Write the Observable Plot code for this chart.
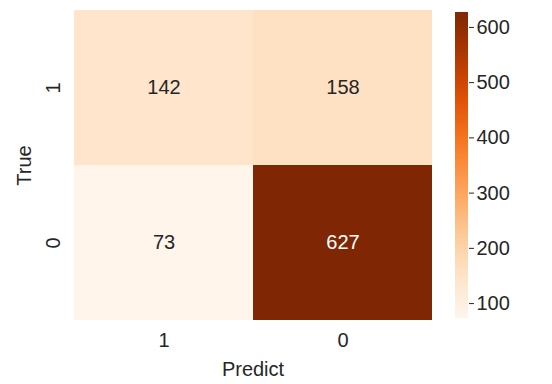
<!DOCTYPE html>
<html>
<head>
<meta charset="utf-8">
<script src="https://cdn.jsdelivr.net/npm/d3@7"></script>
<script src="https://cdn.jsdelivr.net/npm/@observablehq/plot@0.6"></script>
<style>
  html, body { margin: 0; padding: 0; background: #fff; }
  #chart { position: relative; width: 552px; height: 384px; }
  #chart svg { position: absolute; left: 0; top: 0; }
</style>
</head>
<body>
<div id="chart"></div>
<script>
// Confusion matrix: rows are true labels, columns are predicted labels
const trueLabels = ["1", "0"];
const predictLabels = ["1", "0"];
const counts = [
  [142, 158],
  [73, 627]
];
const colorbarTicks = [100, 200, 300, 400, 500, 600];

const cells = [];
trueLabels.forEach((t, i) => predictLabels.forEach((p, j) => {
  cells.push({truth: t, predict: p, value: counts[i][j]});
}));

const vmin = d3.min(cells, d => d.value);
const vmax = d3.max(cells, d => d.value);
const colorOpts = {type: "linear", scheme: "Oranges", domain: [vmin, vmax]};
const font = "'Liberation Sans', Arial, sans-serif";

const heatmap = Plot.plot({
  width: 552,
  height: 384,
  marginLeft: 73,
  marginRight: 120,
  marginTop: 10,
  marginBottom: 64,
  style: {fontFamily: font, fontSize: "20px", color: "#262626", background: "transparent"},
  x: {domain: predictLabels, padding: 0, label: "Predict", labelAnchor: "center", labelOffset: 55, tickSize: 0, tickPadding: 12},
  y: {domain: trueLabels, padding: 0, label: "True", labelAnchor: "center", labelOffset: 57, tickSize: 0, tickPadding: 14, tickRotate: -90},
  color: colorOpts,
  marks: [
    Plot.cell(cells, {x: "predict", y: "truth", fill: "value"}),
    Plot.text(cells, {
      x: "predict", y: "truth", text: d => String(d.value),
      fill: d => d.value > (vmin + vmax) / 2 ? "#ffffff" : "#262626",
      fontSize: 20
    })
  ]
});

// Vertical colour bar built from the same colour scale
const steps = d3.range(vmin, vmax, 1);
const colorbar = Plot.plot({
  width: 552,
  height: 384,
  marginLeft: 455,
  marginRight: 84,
  marginTop: 12,
  marginBottom: 66,
  style: {fontFamily: font, fontSize: "20px", color: "#262626", background: "transparent"},
  x: {axis: null},
  y: {domain: [vmin, vmax], axis: "right", ticks: colorbarTicks, tickSize: 5, tickPadding: 3, label: null},
  color: colorOpts,
  marks: [
    Plot.rect(steps, {y1: d => d, y2: d => Math.min(d + 1.2, vmax), fill: d => d, shapeRendering: "crispEdges"})
  ]
});

const chart = document.getElementById("chart");
chart.appendChild(heatmap);
chart.appendChild(colorbar);
</script>
</body>
</html>
